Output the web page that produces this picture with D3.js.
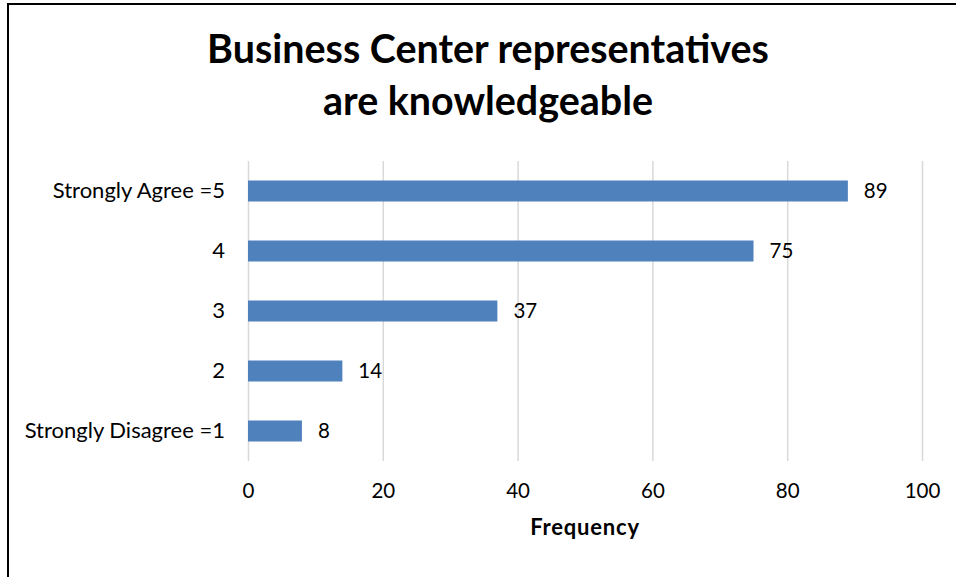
<!DOCTYPE html>
<html>
<head>
<meta charset="utf-8">
<script src="https://cdn.jsdelivr.net/npm/d3@7/dist/d3.min.js"></script>
<style>
  html, body { margin: 0; padding: 0; background: #fff; }
  svg { display: block; font-family: Lato, "Open Sans", sans-serif; }
</style>
</head>
<body>
<svg id="chart" width="956" height="577"></svg>
<script>
// Survey responses, top row first
const categories = ["Strongly Agree =5", "4", "3", "2", "Strongly Disagree =1"];
const frequencies = [89, 75, 37, 14, 8];
const xTicks = [0, 20, 40, 60, 80, 100];
const titleLines = ["Business Center representatives", "are knowledgeable"];
const axisTitle = "Frequency";

const svg = d3.select("#chart");

// Chart frame (left and top edges)
svg.append("path")
  .attr("d", "M8,577 L8,4 L956,4")
  .attr("fill", "none")
  .attr("stroke", "#000")
  .attr("stroke-width", 2);

const plot = { left: 248, right: 922, top: 161, bottom: 461 };

const x = d3.scaleLinear().domain([0, 100]).range([plot.left, plot.right]);
const y = d3.scaleBand()
  .domain(categories)
  .range([plot.top, plot.bottom])
  .paddingInner(0.65)
  .paddingOuter(0.325);

// Vertical gridlines
const grid = svg.append("g")
  .attr("transform", `translate(0,${plot.bottom})`)
  .call(d3.axisBottom(x).tickValues(xTicks).tickSize(-(plot.bottom - plot.top)).tickFormat(""));
grid.select(".domain").remove();
grid.selectAll(".tick line").attr("stroke", "#D9D9D9").attr("stroke-width", 1.5);

// Bars
svg.append("g").selectAll("rect")
  .data(categories)
  .join("rect")
  .attr("x", x(0))
  .attr("y", d => y(d))
  .attr("width", (d, i) => x(frequencies[i]) - x(0))
  .attr("height", y.bandwidth())
  .attr("fill", "#4F81BD");

// Value labels
svg.append("g").selectAll("text")
  .data(categories)
  .join("text")
  .attr("x", (d, i) => x(frequencies[i]) + 16)
  .attr("y", d => y(d) + y.bandwidth() / 2)
  .attr("dy", "0.35em")
  .attr("font-size", 20.5)
  .attr("fill", "#000")
  .text((d, i) => frequencies[i]);

// Category axis labels
const yAxis = svg.append("g")
  .attr("transform", `translate(${plot.left},0)`)
  .call(d3.axisLeft(y).tickSize(0).tickPadding(23));
yAxis.select(".domain").remove();
yAxis.selectAll("text")
  .attr("font-size", 22)
  .attr("font-family", "Lato, 'Open Sans', sans-serif")
  .attr("fill", "#000");

// Frequency axis tick labels
const xAxis = svg.append("g")
  .attr("transform", `translate(0,${plot.bottom})`)
  .call(d3.axisBottom(x).tickValues(xTicks).tickSize(0).tickPadding(22));
xAxis.select(".domain").remove();
xAxis.selectAll("text")
  .attr("font-size", 20.5)
  .attr("font-family", "Lato, 'Open Sans', sans-serif")
  .attr("fill", "#000");

// Axis title
svg.append("text")
  .attr("x", (plot.left + plot.right) / 2)
  .attr("y", 535)
  .attr("text-anchor", "middle")
  .attr("font-size", 22)
  .attr("font-weight", "bold")
  .attr("letter-spacing", 0.8)
  .attr("fill", "#000")
  .text(axisTitle);

// Chart title, sized so the first line spans the title width
const titleText = svg.append("g").selectAll("text")
  .data(titleLines)
  .join("text")
  .attr("x", 488)
  .attr("y", (d, i) => 63 + i * 52)
  .attr("text-anchor", "middle")
  .attr("font-weight", "bold")
  .attr("font-size", 34)
  .attr("fill", "#000")
  .text(d => d);
const w0 = titleText.node().getComputedTextLength();
titleText.attr("font-size", 34 * 562 / w0);
</script>
</body>
</html>
